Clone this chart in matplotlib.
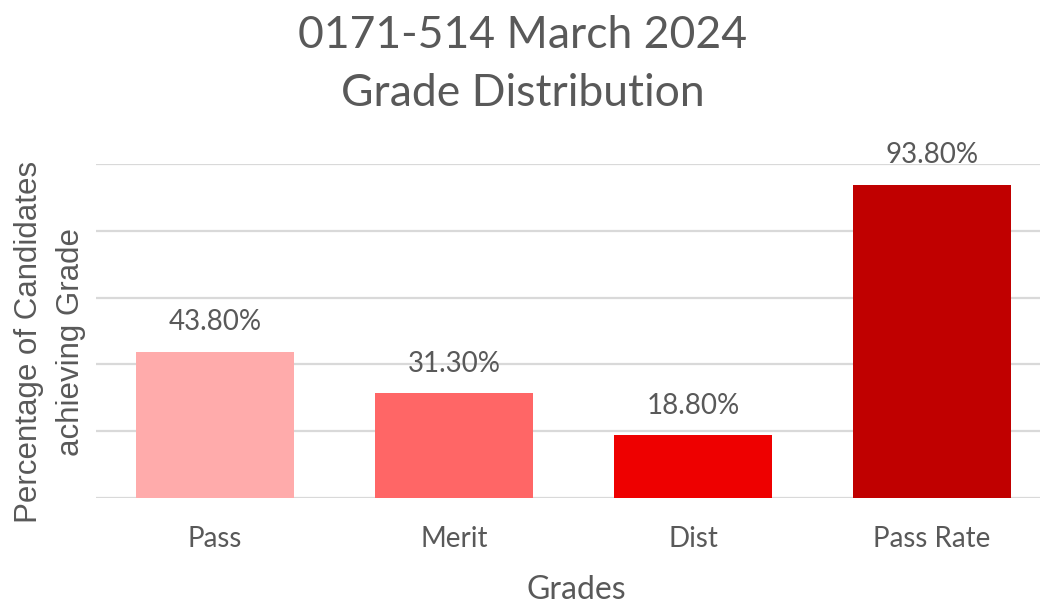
import matplotlib
matplotlib.use("Agg")
import matplotlib.pyplot as plt

categories = ["Pass", "Merit", "Dist", "Pass Rate"]
values = [43.8, 31.3, 18.8, 93.8]
labels = ["43.80%", "31.30%", "18.80%", "93.80%"]
colors = ["#FFABAB", "#FF6666", "#EE0000", "#C00000"]

txt = "#595959"
plt.rcParams['font.family'] = ['Lato', 'DejaVu Sans']

fig = plt.figure(figsize=(10.4, 6.05), dpi=100)
ax = fig.add_axes([95.5 / 1040, 107 / 605, 956 / 1040, 334 / 605])

x = range(len(categories))
bars = ax.bar(x, values, width=0.665, color=colors, zorder=3)
for b, lab in zip(bars, labels):
    ax.annotate(lab, (b.get_x() + b.get_width() / 2, b.get_height()),
                xytext=(0, 12), textcoords="offset points",
                ha="center", va="bottom", fontsize=20, color=txt)

ax.set_xlim(-0.5, 3.5)
ax.set_ylim(0, 100)
ax.set_yticks([0, 20, 40, 60, 80, 100])
ax.set_yticklabels([])
ax.yaxis.grid(True, color="#D9D9D9", linewidth=1.6, zorder=0)
ax.tick_params(axis="both", length=0)
ax.set_xticks(list(x))
ax.set_xticklabels(categories, fontsize=20, color=txt)
ax.tick_params(axis="x", pad=20)
for s in ax.spines.values():
    s.set_visible(False)

fig.text(523 / 1040, 1 - 35 / 605, "0171-514 March 2024", ha="center", va="center",
         fontsize=32, color=txt)
fig.text(523 / 1040, 1 - 93 / 605, "Grade Distribution", ha="center", va="center",
         fontsize=32, color=txt)
fig.text(576 / 1040, 1 - 590 / 605, "Grades", ha="center", va="center",
         fontsize=23, color=txt)
fig.text(50 / 1040, 1 - 342 / 605, "Percentage of Candidates\nachieving Grade",
         ha="center", va="center", rotation=90, fontsize=22.5, color=txt,
         family="Liberation Sans", linespacing=1.5)

fig.savefig("out.png", dpi=100)
